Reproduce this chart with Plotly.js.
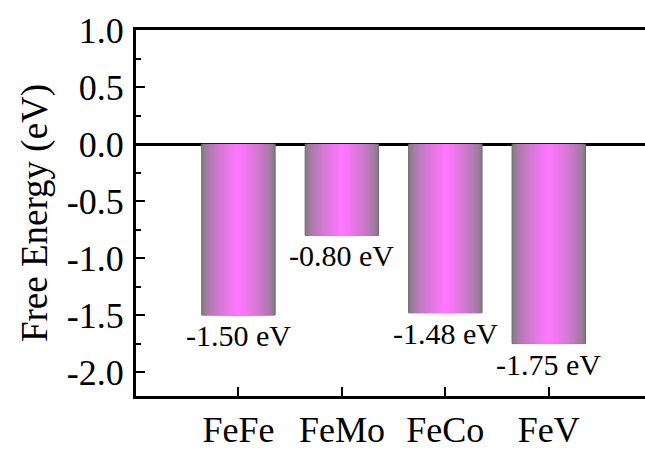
<!DOCTYPE html>
<html>
<head>
<meta charset="utf-8">
<script src="https://cdn.plot.ly/plotly-3.0.1.min.js"></script>
<style>html,body{margin:0;padding:0;background:#fff;}#chart{width:645px;height:452px;}</style>
</head>
<body>
<div id="chart"></div>
<script>
const categories = ["FeFe", "FeMo", "FeCo", "FeV"];
const freeEnergy = [-1.50, -0.80, -1.48, -1.75];
const valueLabels = ["-1.50 eV", "-0.80 eV", "-1.48 eV", "-1.75 eV"];
const yTickVals = [1.0, 0.5, 0.0, -0.5, -1.0, -1.5, -2.0];
const yTickText = ["1.0", "0.5", "0.0", "-0.5", "-1.0", "-1.5", "-2.0"];

const FONT = "'Liberation Serif', 'Times New Roman', serif";
const barWidth = 0.71;
const layers = 24;
const edgeRGB = [128, 124, 128];
const centerRGB = [255, 119, 255];

const traces = [];
for (let k = 0; k < layers; k++) {
  const t = k / (layers - 1);
  const c = edgeRGB.map((e, i) => Math.round(e + (centerRGB[i] - e) * Math.pow(t, 0.6)));
  traces.push({
    type: "bar",
    x: categories,
    y: freeEnergy,
    width: categories.map(() => barWidth * (1 - k / layers)),
    marker: {
      color: "rgb(" + c.join(",") + ")",
      line: k === 0 ? {color: "#6f6f6f", width: 1} : {width: 0}
    },
    hoverinfo: k === layers - 1 ? "x+y" : "skip",
    showlegend: false
  });
}

const annotations = categories.map((cat, i) => ({
  x: cat,
  y: freeEnergy[i],
  xref: "x",
  yref: "y",
  text: valueLabels[i],
  showarrow: false,
  yanchor: "top",
  yshift: -2,
  font: {family: FONT, size: 30, color: "#000"}
}));

const layout = {
  width: 645,
  height: 452,
  margin: {l: 136, r: 0, t: 30, b: 56},
  paper_bgcolor: "#fff",
  plot_bgcolor: "#fff",
  barmode: "overlay",
  showlegend: false,
  font: {family: FONT, color: "#000"},
  xaxis: {
    type: "category",
    range: [-0.99, 3.93],
    showline: true,
    linecolor: "#000",
    linewidth: 3,
    mirror: true,
    ticks: "inside",
    ticklen: 9,
    tickwidth: 2,
    tickcolor: "#000",
    showgrid: false,
    zeroline: false,
    tickfont: {family: FONT, size: 36, color: "#000"},
    ticklabelstandoff: 0
  },
  yaxis: {
    range: [-2.21, 1.003],
    tickmode: "array",
    tickvals: yTickVals,
    ticktext: yTickText,
    showline: true,
    linecolor: "#000",
    linewidth: 3,
    mirror: false,
    ticks: "inside",
    ticklen: 9,
    tickwidth: 2,
    tickcolor: "#000",
    minor: {dtick: 0.25, tick0: 0, ticks: "inside", ticklen: 5, tickwidth: 2, tickcolor: "#000", showgrid: false},
    showgrid: false,
    zeroline: true,
    zerolinecolor: "#000",
    zerolinewidth: 2.5,
    layer: "above traces",
    tickfont: {family: FONT, size: 36, color: "#000"},
    ticklabelstandoff: 2,
    title: {text: "Free Energy (eV)", font: {family: FONT, size: 37, color: "#000"}, standoff: 8}
  },
  annotations: annotations
};

Plotly.newPlot("chart", traces, layout, {displayModeBar: false, staticPlot: true});
</script>
</body>
</html>
